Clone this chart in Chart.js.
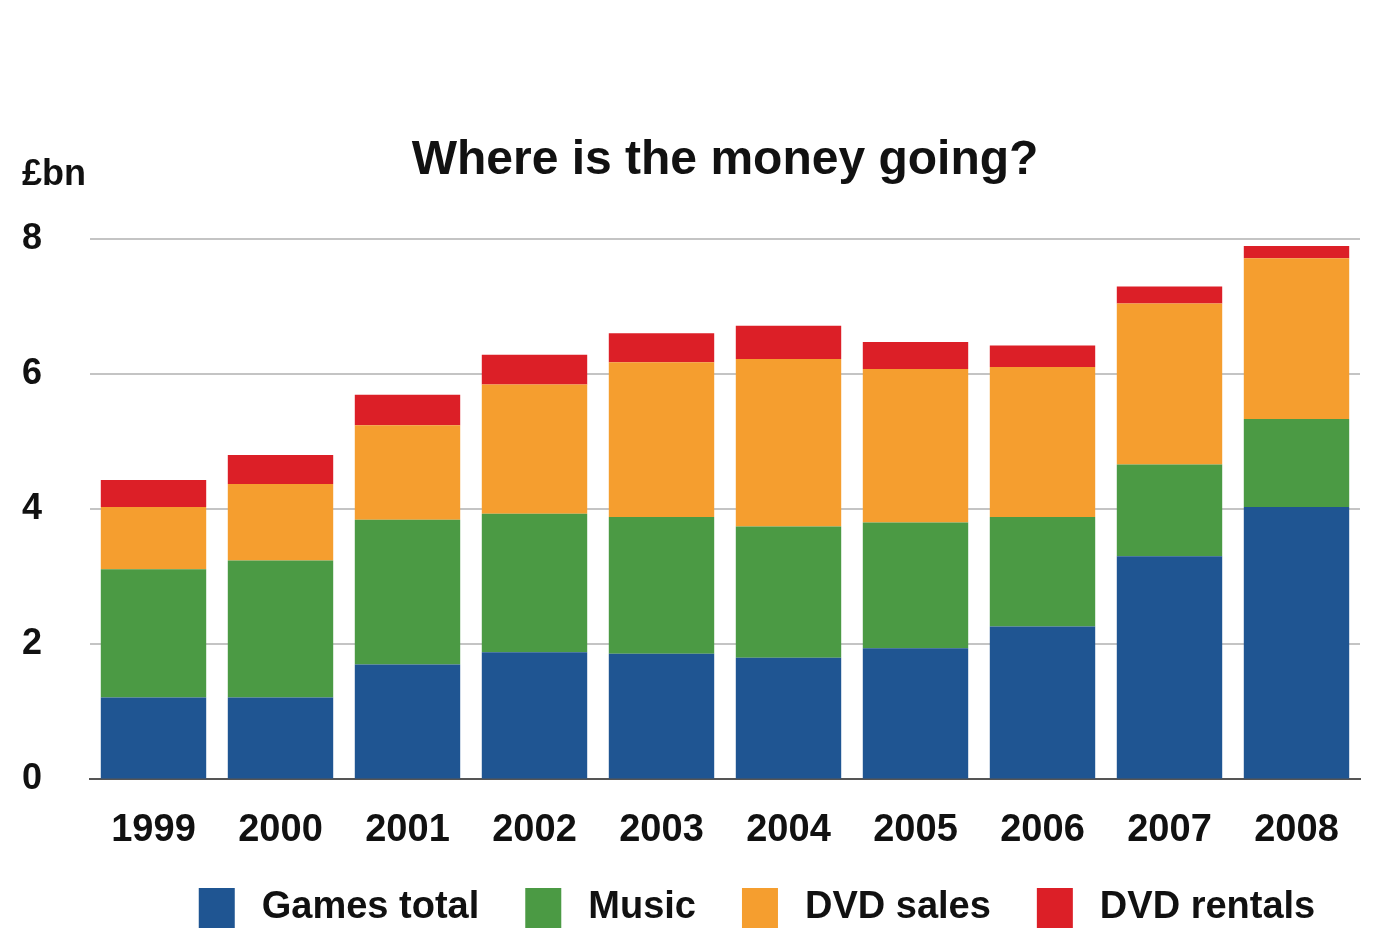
<!DOCTYPE html>
<html>
<head>
<meta charset="utf-8">
<title>Where is the money going?</title>
<script src="https://cdn.jsdelivr.net/npm/chart.js@4.4.1/dist/chart.umd.min.js"></script>
<style>
    html, body { margin: 0; padding: 0; background: #f3f3f3; }
    #wrap { position: absolute; left: 0; top: 0; width: 1389px; height: 940px; background: #fff; }
</style>
</head>
<body>
<div id="wrap"><canvas id="moneyChart" width="1389" height="940"></canvas></div>
<script>
const years = ['1999', '2000', '2001', '2002', '2003', '2004', '2005', '2006', '2007', '2008'];
const gamesTotal = [1.21, 1.21, 1.70, 1.88, 1.86, 1.80, 1.94, 2.26, 3.30, 4.03];
const music      = [1.90, 2.03, 2.14, 2.05, 2.02, 1.94, 1.86, 1.62, 1.36, 1.30];
const dvdSales   = [0.92, 1.13, 1.40, 1.91, 2.29, 2.48, 2.27, 2.22, 2.38, 2.38];
const dvdRentals = [0.40, 0.43, 0.45, 0.44, 0.43, 0.49, 0.40, 0.32, 0.25, 0.18];
const yTicks = [0, 2, 4, 6, 8];

const FONT = "'Liberation Sans', Arial, Helvetica, sans-serif";

// unit label above the value axis
const unitLabel = {
    id: 'unitLabel',
    afterDraw(chart) {
        const { ctx } = chart;
        ctx.save();
        ctx.font = `bold 36px ${FONT}`;
        ctx.fillStyle = '#111';
        ctx.textBaseline = 'middle';
        ctx.textAlign = 'left';
        ctx.fillText('£bn', 22, 175);
        ctx.restore();
    }
};

// legend row under the x labels, wider spacing than the stock legend
const legendRow = {
    id: 'legendRow',
    afterDraw(chart, args, opts) {
        const { ctx } = chart;
        const sets = chart.data.datasets;
        ctx.save();
        ctx.font = `bold 38px ${FONT}`;
        ctx.textBaseline = 'middle';
        const widths = sets.map(d => opts.box + opts.gap + ctx.measureText(d.label).width);
        const total = widths.reduce((a, b) => a + b, 0) + opts.spacing * (sets.length - 1);
        let x = opts.centerX - total / 2;
        sets.forEach((d, i) => {
            ctx.fillStyle = d.backgroundColor;
            ctx.fillRect(x, opts.y - opts.boxH / 2, opts.box, opts.boxH);
            ctx.fillStyle = '#111';
            ctx.fillText(d.label, x + opts.box + opts.gap, opts.y);
            x += widths[i] + opts.spacing;
        });
        ctx.restore();
    }
};

const series = [
    { label: 'Games total', data: gamesTotal, backgroundColor: '#1f5592' },
    { label: 'Music',       data: music,      backgroundColor: '#4b9a44' },
    { label: 'DVD sales',   data: dvdSales,   backgroundColor: '#f59e2f' },
    { label: 'DVD rentals', data: dvdRentals, backgroundColor: '#dc1f27' }
];

new Chart(document.getElementById('moneyChart'), {
    type: 'bar',
    data: {
        labels: years,
        datasets: series.map(s => ({
            ...s,
            borderWidth: 0,
            categoryPercentage: 0.83,
            barPercentage: 1
        }))
    },
    options: {
        responsive: false,
        animation: false,
        layout: { padding: { left: 22, right: 29, top: 0, bottom: 67 } },
        plugins: {
            title: {
                display: true,
                fullSize: false,
                text: 'Where is the money going?',
                color: '#111',
                font: { family: FONT, size: 48, weight: 'bold' },
                padding: { top: 132, bottom: 49 }
            },
            legend: { display: false },
            legendRow: { centerX: 757, y: 908, box: 36, boxH: 40, gap: 27, spacing: 46 },
            tooltip: { enabled: false }
        },
        scales: {
            x: {
                stacked: true,
                grid: { display: false },
                border: { display: true, color: '#555', width: 2 },
                ticks: {
                    color: '#111',
                    padding: 20,
                    font: { family: FONT, size: 38, weight: 'bold' }
                }
            },
            y: {
                stacked: true,
                min: 0,
                max: 8,
                afterFit: scale => { scale.width = 68; },
                afterBuildTicks: scale => { scale.ticks = yTicks.map(v => ({ value: v })); },
                border: { display: false },
                grid: {
                    drawTicks: false,
                    color: ctx => ctx.tick.value === 0 ? '#555' : '#c4c4c4',
                    lineWidth: 2
                },
                ticks: {
                    color: '#111',
                    crossAlign: 'far',
                    padding: 10,
                    font: { family: FONT, size: 36, weight: 'bold' }
                }
            }
        }
    },
    plugins: [unitLabel, legendRow]
});
</script>
</body>
</html>
